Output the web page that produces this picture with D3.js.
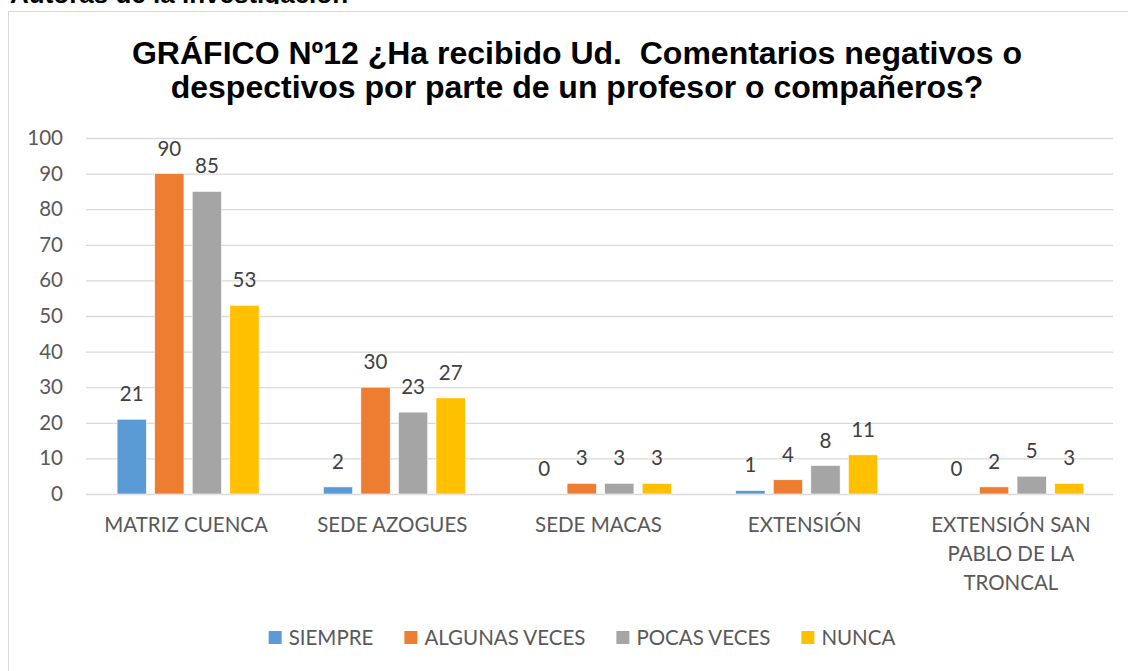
<!DOCTYPE html>
<html><head><meta charset="utf-8">
<script src="https://cdn.jsdelivr.net/npm/d3@7"></script>
<style>body{margin:0;background:#fff}svg{display:block}text{white-space:pre}</style>
</head><body>
<svg id="c" width="1128" height="671"></svg>
<script>
const categories = [["MATRIZ CUENCA"],["SEDE AZOGUES"],["SEDE MACAS"],["EXTENSIÓN"],["EXTENSIÓN SAN","PABLO DE LA","TRONCAL"]];
const seriesNames = ["SIEMPRE","ALGUNAS VECES","POCAS VECES","NUNCA"];
const siempre = [21,2,0,1,0];
const algunas = [90,30,3,4,2];
const pocas = [85,23,3,8,5];
const nunca = [53,27,3,11,3];
const colors = ["#5B9BD5","#ED7D31","#A5A5A5","#FFC000"];
const yTicks = [0,10,20,30,40,50,60,70,80,90,100];
const titleLines = ["GRÁFICO Nº12 ¿Ha recibido Ud.  Comentarios negativos o","despectivos por parte de un profesor o compañeros?"];

const values = [siempre, algunas, pocas, nunca];
const svg = d3.select("#c");
const font = "Lato, 'Open Sans', sans-serif";
const arial = "'Liberation Sans',Arial,sans-serif";

svg.append("text").attr("x",10).attr("y",3).attr("font-family",arial)
  .attr("font-weight","bold").attr("font-size",26).attr("fill","#000").text("Autoras de la investigación");
svg.append("rect").attr("x",0).attr("y",4).attr("width",1128).attr("height",8).attr("fill","#fff");

svg.append("rect").attr("x",8.5).attr("y",11.5).attr("width",1130).attr("height",700)
  .attr("fill","#fff").attr("stroke","#d9d9d9").attr("stroke-width",1);

svg.selectAll("text.title").data(titleLines).join("text").attr("class","title")
  .attr("x",577).attr("y",(d,i)=>64+i*34).attr("text-anchor","middle")
  .attr("font-family",arial).attr("font-weight","bold")
  .attr("font-size",32).attr("fill","#000").text(d=>d);

const x0 = d3.scaleBand().domain(d3.range(categories.length)).range([82,1113]);
const x1 = d3.scaleBand().domain(d3.range(seriesNames.length)).range([0,142]).paddingInner(0.22).paddingOuter(0);
const y = d3.scaleLinear().domain([0,100]).range([494,138]);

const yAxis = svg.append("g").attr("transform","translate(86,0)")
  .call(d3.axisLeft(y).tickValues(yTicks).tickSize(-1027).tickPadding(23));
yAxis.select(".domain").remove();
yAxis.selectAll("line").attr("stroke","#d9d9d9").attr("stroke-width",1.3);
yAxis.selectAll("text").attr("font-family",font).attr("font-size",20.5).attr("fill","#595959");

const groups = svg.append("g").selectAll("g").data(categories).join("g")
  .attr("transform",(d,i)=>`translate(${x0(i)+x0.bandwidth()/2-71+3},0)`);

groups.each(function(cat,ci){
  const g = d3.select(this);
  values.forEach((arr,si)=>{
    const v = arr[ci];
    if (v>0) g.append("rect").attr("x",x1(si)).attr("width",x1.bandwidth())
      .attr("y",y(v)).attr("height",y(0)-y(v)).attr("fill",colors[si])
      .attr("stroke","#fff").attr("stroke-width",0.6);
    g.append("text").attr("x",x1(si)+x1.bandwidth()/2).attr("y",y(v)-18)
      .attr("text-anchor","middle").attr("font-family",font).attr("font-size",20.5)
      .attr("fill","#404040").text(v);
  });
});

const xl = svg.append("g").selectAll("text").data(categories).join("text")
  .attr("x",(d,i)=>x0(i)+x0.bandwidth()/2+1).attr("y",532).attr("text-anchor","middle")
  .attr("font-family",font).attr("font-size",20.5).attr("fill","#595959");
xl.each(function(lines){
  d3.select(this).selectAll("tspan").data(lines).join("tspan")
    .attr("x",d3.select(this).attr("x")).attr("dy",(d,i)=>i?29:0).text(d=>d);
});

// legend, laid out from measured text widths and centered
const lgRoot = svg.append("g");
const lg = lgRoot.selectAll("g").data(seriesNames).join("g");
lg.append("rect").attr("y",631).attr("width",13).attr("height",13).attr("fill",(d,i)=>colors[i]);
lg.append("text").attr("x",20).attr("y",645).attr("font-family",font).attr("font-size",20.5)
  .attr("fill","#595959").text(d=>d);
let cx = 0; const offs = [];
lg.each(function(){ offs.push(cx); cx += 20 + this.querySelector("text").getComputedTextLength() + 31; });
const total = cx - 31;
const start = 582 - total/2;
lg.attr("transform",(d,i)=>`translate(${start+offs[i]},0)`);
</script>
</body></html>
